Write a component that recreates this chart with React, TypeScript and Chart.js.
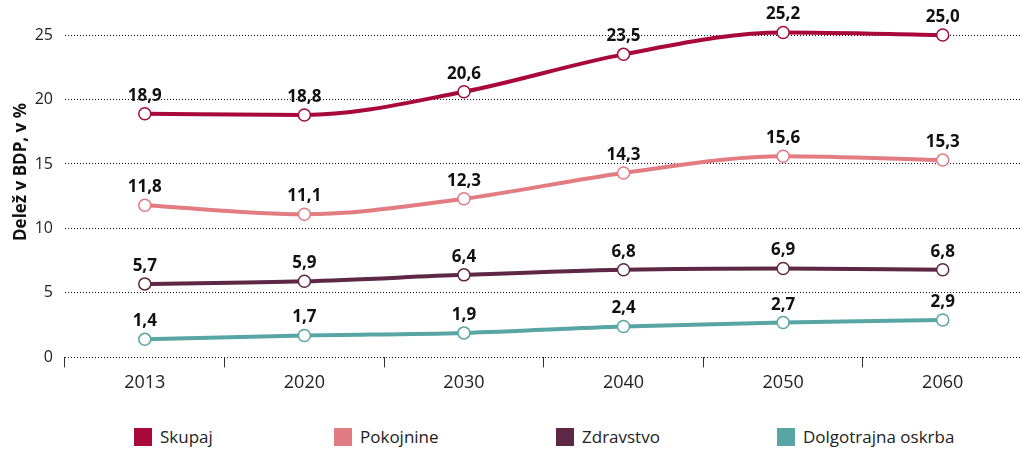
import React, { useEffect, useRef } from "react";
import { Chart, registerables } from "chart.js";

Chart.register(...registerables);

const years = ["2013", "2020", "2030", "2040", "2050", "2060"];
const skupaj = [18.9, 18.8, 20.6, 23.5, 25.2, 25.0];
const pokojnine = [11.8, 11.1, 12.3, 14.3, 15.6, 15.3];
const zdravstvo = [5.7, 5.9, 6.4, 6.8, 6.9, 6.8];
const oskrba = [1.4, 1.7, 1.9, 2.4, 2.7, 2.9];
const seriesNames = ["Skupaj", "Pokojnine", "Zdravstvo", "Dolgotrajna oskrba"];
const seriesColors = ["#A8093A", "#E27B82", "#5E2746", "#57A6A3"];
const yTitle = "Delež v BDP, v %";

const FONT = "'Open Sans', 'Noto Sans', sans-serif";

const valueLabels = {
  id: "valueLabels",
  afterDatasetsDraw(chart: any) {
    const ctx = chart.ctx;
    ctx.save();
    ctx.font = `bold 17px ${FONT}`;
    ctx.fillStyle = "#111";
    ctx.textAlign = "center";
    ctx.textBaseline = "alphabetic";
    chart.data.datasets.forEach((ds: any, i: number) => {
      const meta = chart.getDatasetMeta(i);
      meta.data.forEach((pt: any, j: number) => {
        const v = ds.data[j] as number;
        ctx.fillText(v.toFixed(1).replace(".", ","), pt.x, pt.y - 13);
      });
    });
    ctx.restore();
  },
};

const yTitlePlugin = {
  id: "yTitlePlugin",
  afterDraw(chart: any) {
    const ctx = chart.ctx;
    ctx.save();
    ctx.font = `bold 17px ${FONT}`;
    ctx.fillStyle = "#111";
    ctx.textAlign = "center";
    ctx.textBaseline = "middle";
    ctx.translate(21, 172);
    ctx.rotate(-Math.PI / 2);
    ctx.fillText(yTitle, 0, 0);
    ctx.restore();
  },
};

export default function App() {
  const ref = useRef<HTMLCanvasElement>(null);
  useEffect(() => {
    if (!ref.current) return;
    const all = [skupaj, pokojnine, zdravstvo, oskrba];
    const chart = new Chart(ref.current, {
      type: "line",
      data: {
        labels: years,
        datasets: all.map((d, i) => ({
          label: seriesNames[i],
          data: d,
          borderColor: seriesColors[i],
          backgroundColor: "#fff",
          borderWidth: 4,
          pointRadius: 6,
          pointBorderWidth: 1.5,
          pointBackgroundColor: "#fff",
          pointBorderColor: seriesColors[i],
          cubicInterpolationMode: "monotone" as const,
          clip: false as any,
        })),
      },
      options: {
        animation: false,
        responsive: false,
        maintainAspectRatio: false,
        layout: { padding: { top: 35, bottom: 1, left: 0, right: 0 } },
        plugins: {
          legend: { display: false },
          tooltip: { enabled: false },
        },
        scales: {
          x: {
            offset: true,
            border: { display: false },
            grid: {
              offset: true,
              drawOnChartArea: false,
              drawTicks: true,
              tickLength: 10,
              color: "#333",
              lineWidth: 1,
            },
            ticks: {
              font: { family: FONT, size: 18 },
              color: "#222",
              padding: 5,
              maxRotation: 0,
            },
          },
          y: {
            min: 0,
            max: 25,
            afterFit: (axis: any) => {
              axis.width = 65;
            },
            border: { display: false, dash: [1, 2] },
            grid: {
              drawTicks: false,
              color: "#111",
              lineWidth: 1,
            },
            ticks: {
              stepSize: 5,
              font: { family: FONT, size: 16 },
              color: "#222",
              padding: 12,
            },
          },
        },
      },
      plugins: [valueLabels, yTitlePlugin],
    });
    return () => chart.destroy();
  }, []);

  const legendLeft = [134, 334, 556, 777];
  return (
    <div
      style={{
        position: "fixed",
        left: 0,
        top: 0,
        width: 1030,
        height: 451,
        background: "#fff",
      }}
    >
      <canvas ref={ref} width={1030} height={400} style={{ display: "block" }} />
      {seriesNames.map((n, i) => (
        <div
          key={n}
          style={{
            position: "absolute",
            left: legendLeft[i],
            top: 428,
            display: "flex",
            alignItems: "center",
            fontFamily: FONT,
            fontSize: 17,
            color: "#222",
            whiteSpace: "nowrap",
          }}
        >
          <span
            style={{
              display: "inline-block",
              width: 18,
              height: 18,
              background: seriesColors[i],
              marginRight: 8,
            }}
          />
          <span style={{ lineHeight: "18px" }}>{n}</span>
        </div>
      ))}
    </div>
  );
}
